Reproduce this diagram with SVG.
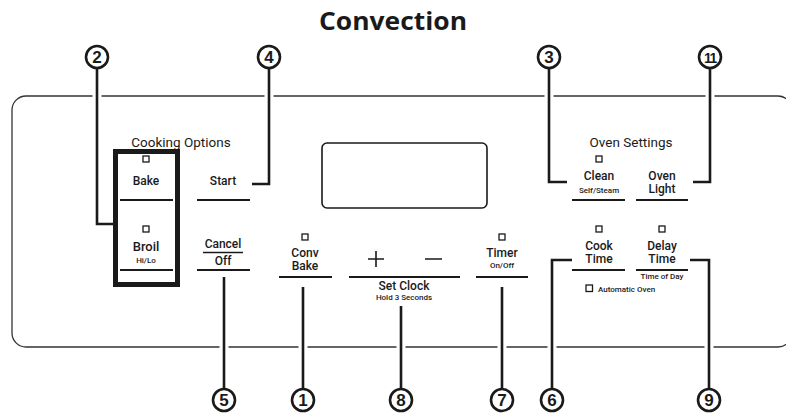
<svg xmlns="http://www.w3.org/2000/svg" width="786" height="413" viewBox="0 0 786 413">
<style>
text{font-family:Roboto,"Liberation Sans",sans-serif;fill:#1a1a1a;text-anchor:middle}
.t{font-size:12px;font-weight:500}
.s{font-size:8px;font-weight:500}
.h{font-size:13.5px;font-weight:400}
.u{stroke:#1a1a1a;stroke-width:2;fill:none}
.ind{fill:#fff;stroke:#1a1a1a;stroke-width:1.3}
.lead{stroke:#1a1a1a;stroke-width:2.6;fill:none}
.halo{stroke:#fff;stroke-width:9;fill:none}
.num circle{fill:#fff;stroke:#1a1a1a;stroke-width:2.6}
.num text{font-family:"Liberation Sans",Arial,sans-serif;font-size:17px;font-weight:bold}
</style>
<text x="393" y="30" style="font-family:'Open Sans','Liberation Sans',sans-serif;font-size:25px;font-weight:bold" textLength="148" lengthAdjust="spacingAndGlyphs">Convection</text>
<rect id="panel" x="12" y="96" width="780" height="251" rx="14" fill="none" stroke="#333" stroke-width="1.3"/>
<g id="connectors">
<path class="halo" d="M97 69V224H114M269 69V184H252M549 69V182H567M710 69V182H693M224 277V388M303 287V388M401 306V388M502 287V388M552 388V260H572M709 388V260H690"/>
<path class="lead" d="M97 69V224H114M269 69V184H252M549 69V182H567M710 69V182H693M224 277V388M303 287V388M401 306V388M502 287V388M552 388V260H572M709 388V260H690"/>
</g>
<g id="display"><rect x="322" y="143" width="165" height="65" rx="5" fill="none" stroke="#1a1a1a" stroke-width="1.6"/></g>
<g id="cooking-options"><text class="h" x="181" y="147">Cooking Options</text></g>
<g id="bake-broil">
<rect x="115.5" y="151.5" width="62" height="133" fill="none" stroke="#1a1a1a" stroke-width="5"/>
<rect class="ind" x="143" y="156" width="6" height="6"/>
<text class="t" x="146" y="185">Bake</text>
<line class="u" x1="120" y1="200" x2="173" y2="200"/>
<rect class="ind" x="143" y="226" width="6" height="6"/>
<text class="t" x="146" y="251" style="font-size:13px">Broil</text>
<text class="s" x="146" y="263">Hi/Lo</text>
<line class="u" x1="120" y1="270" x2="173" y2="270"/>
</g>
<g id="start">
<text class="t" x="223" y="185">Start</text>
<line class="u" x1="197" y1="200" x2="250" y2="200"/>
</g>
<g id="cancel">
<text class="t" x="223" y="248">Cancel</text>
<line x1="203" y1="252.5" x2="243" y2="252.5" stroke="#1a1a1a" stroke-width="1.3"/>
<text class="t" x="223" y="265">Off</text>
<line class="u" x1="197" y1="270" x2="250" y2="270"/>
</g>
<g id="conv-bake">
<rect class="ind" x="302" y="234" width="6" height="6"/>
<text class="t" x="305" y="256.5">Conv</text>
<text class="t" x="305" y="269.5">Bake</text>
<line class="u" x1="279" y1="277" x2="332" y2="277"/>
</g>
<g id="set-clock">
<path d="M368 259H384M376 251V267M425 259H442" stroke="#1a1a1a" stroke-width="1.6" fill="none"/>
<line class="u" x1="349" y1="277" x2="460" y2="277"/>
<text class="t" x="404" y="290">Set Clock</text>
<text class="s" x="404" y="300">Hold 3 Seconds</text>
</g>
<g id="timer">
<rect class="ind" x="499" y="234" width="6" height="6"/>
<text class="t" x="502" y="257">Timer</text>
<text class="s" x="502" y="268">On/Off</text>
<line class="u" x1="476" y1="277" x2="528" y2="277"/>
</g>
<g id="oven-settings"><text class="h" x="631" y="147">Oven Settings</text></g>
<g id="clean">
<rect class="ind" x="596" y="156" width="6" height="6"/>
<text class="t" x="599" y="180">Clean</text>
<text class="s" x="599" y="193">Self/Steam</text>
<line class="u" x1="572" y1="200" x2="625" y2="200"/>
</g>
<g id="oven-light">
<text class="t" x="662" y="179.5">Oven</text>
<text class="t" x="662" y="193">Light</text>
<line class="u" x1="636" y1="200" x2="688" y2="200"/>
</g>
<g id="cook-time">
<rect class="ind" x="596" y="226" width="6" height="6"/>
<text class="t" x="599" y="249.5">Cook</text>
<text class="t" x="599" y="263">Time</text>
<line class="u" x1="572" y1="270" x2="625" y2="270"/>
</g>
<g id="delay-time">
<rect class="ind" x="659" y="226" width="6" height="6"/>
<text class="t" x="662" y="249.5">Delay</text>
<text class="t" x="662" y="263">Time</text>
<line class="u" x1="636" y1="270" x2="688" y2="270"/>
<text class="s" x="662" y="279">Time of Day</text>
</g>
<g id="automatic-oven">
<rect class="ind" x="586" y="285" width="6.5" height="6.5"/>
<text class="s" x="598" y="292" style="text-anchor:start">Automatic Oven</text>
</g>
<g id="n2" class="num"><circle cx="97" cy="57" r="11"/><text x="97" y="63">2</text></g>
<g id="n4" class="num"><circle cx="269" cy="57" r="11"/><text x="269" y="63">4</text></g>
<g id="n3" class="num"><circle cx="549" cy="57" r="11"/><text x="549" y="63">3</text></g>
<g id="n11" class="num"><circle cx="710" cy="57" r="11"/><text x="710" y="62.5" style="font-size:14px;letter-spacing:-1.5px">11</text></g>
<g id="n5" class="num"><circle cx="224" cy="400" r="11"/><text x="224" y="406">5</text></g>
<g id="n1" class="num"><circle cx="303" cy="400" r="11"/><text x="303" y="406">1</text></g>
<g id="n8" class="num"><circle cx="401" cy="400" r="11"/><text x="401" y="406">8</text></g>
<g id="n7" class="num"><circle cx="502" cy="400" r="11"/><text x="502" y="406">7</text></g>
<g id="n6" class="num"><circle cx="552" cy="400" r="11"/><text x="552" y="406">6</text></g>
<g id="n9" class="num"><circle cx="709" cy="400" r="11"/><text x="709" y="406">9</text></g>
</svg>
